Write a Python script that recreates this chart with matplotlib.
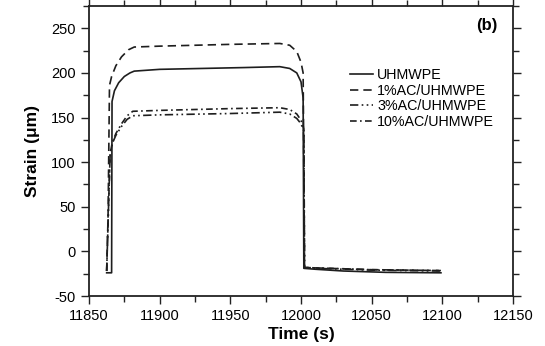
import matplotlib
matplotlib.use("Agg")
import matplotlib.pyplot as plt
from matplotlib.ticker import MultipleLocator

plt.rcParams["font.family"] = ["Liberation Sans", "DejaVu Sans"]
plt.rcParams["axes.unicode_minus"] = False

# creep/recovery strain curves
t_pure = [11862.5, 11866, 11866.3, 11868, 11871, 11875, 11879, 11882, 11900, 11930,
          11960, 11985, 11992, 11997, 12000, 12001.5, 12002, 12010, 12030, 12060, 12099]
s_pure = [-24, -24, 168, 180, 189, 196, 200, 202, 204, 205,
          206, 207, 205, 200, 190, 172, -19, -20, -22, -23.5, -24]

t_1ac = [11862.5, 11863.5, 11864.5, 11866, 11869, 11873, 11878, 11882, 11900, 11950,
         11985, 11992, 11997, 12000, 12001.5, 12002.5, 12010, 12050, 12099]
s_1ac = [-22, 40, 186, 196, 208, 218, 226, 229, 230, 232,
         233, 231, 224, 212, 200, -18, -18.5, -20.5, -21.5]

t_3ac = [11862.5, 11864, 11865, 11866.5, 11869, 11873, 11877, 11881, 11900, 11950,
         11985, 11992, 11997, 12000, 12002, 12002.5, 12010, 12050, 12099]
s_3ac = [-22, 60, 110, 121, 130, 140, 148, 152, 153, 154.5,
         156, 154, 149, 143, 135, -18, -19, -21, -22]

t_10ac = [11862.5, 11864, 11865, 11866.5, 11869, 11873, 11877, 11881, 11900, 11950,
          11985, 11992, 11997, 12000, 12002, 12002.5, 12010, 12050, 12099]
s_10ac = [-22, 60, 110, 122, 132, 143, 152, 157, 158, 160,
          161, 159, 154, 147, 138, -18, -18.5, -20.5, -21.5]

labels = ["UHMWPE", "1%AC/UHMWPE", "3%AC/UHMWPE", "10%AC/UHMWPE"]

fig = plt.figure(figsize=(5.45, 3.46), dpi=100)
ax = fig.add_axes([0.1633, 0.1445, 0.778, 0.8382])

c = "#1e1e1e"
ax.plot(t_pure, s_pure, color=c, lw=1.2, ls="-", label=labels[0])
ax.plot(t_1ac, s_1ac, color=c, lw=1.2, ls=(0, (5, 3)), label=labels[1])
ax.plot(t_3ac, s_3ac, color=c, lw=1.2, ls=(0, (5, 2, 1, 2, 1, 2)), label=labels[2])
ax.plot(t_10ac, s_10ac, color=c, lw=1.2, ls=(0, (4, 2, 1, 2)), label=labels[3])

ax.set_xlim(11850, 12150)
ax.set_ylim(-50, 275)
ax.xaxis.set_major_locator(MultipleLocator(50))
ax.xaxis.set_minor_locator(MultipleLocator(25))
ax.yaxis.set_major_locator(MultipleLocator(50))
ax.yaxis.set_minor_locator(MultipleLocator(25))
ax.tick_params(which="both", direction="out", top=True, right=True,
               labelsize=10.5, color="#222222", width=1.0)
ax.tick_params(which="major", length=6)
ax.tick_params(which="minor", length=4)
for sp in ax.spines.values():
    sp.set_linewidth(1.3)
    sp.set_color("#222222")

ax.set_xlabel("Time (s)", fontsize=12.5, fontweight="bold", labelpad=3)
ax.set_ylabel("Strain (\u03bcm)", fontsize=12.5, fontweight="bold", labelpad=8)

ax.text(0.939, 0.934, "(b)", transform=ax.transAxes, ha="center", va="center",
        fontsize=12, fontweight="bold")

ax.legend(loc="upper left", bbox_to_anchor=(0.616, 0.785), frameon=False,
          fontsize=10.3, borderpad=0, handlelength=1.6, handletextpad=0.3,
          labelspacing=0.1, borderaxespad=0)

fig.savefig("out.png", dpi=100)
